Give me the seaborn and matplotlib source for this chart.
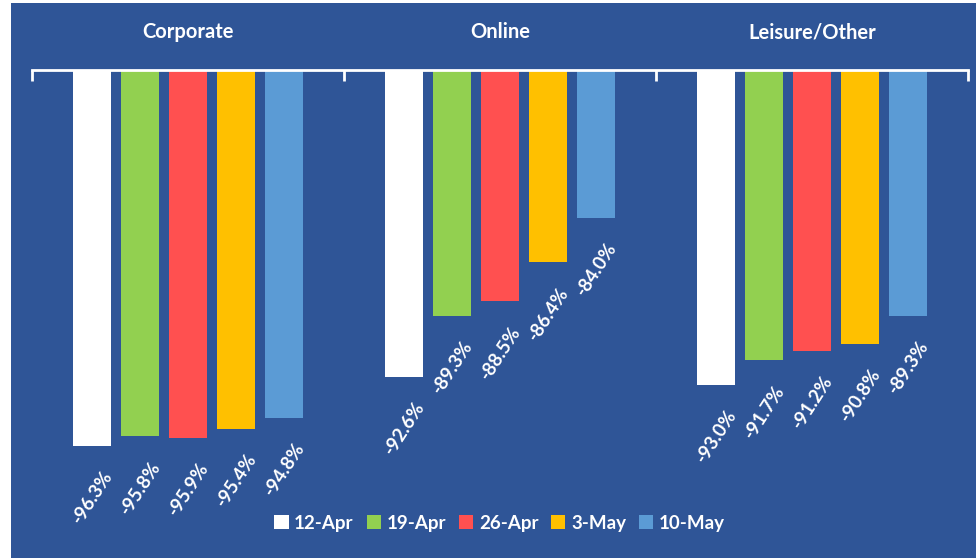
import pandas as pd
import numpy as np
import seaborn as sns
import matplotlib.pyplot as plt
from matplotlib.patches import Patch, Rectangle

# data (% change)
segments = ['Corporate', 'Online', 'Leisure/Other']
weeks = ['12-Apr', '19-Apr', '26-Apr', '3-May', '10-May']
corporate = [-96.3, -95.8, -95.9, -95.4, -94.8]
online = [-92.6, -89.3, -88.5, -86.4, -84.0]
leisure = [-93.0, -91.7, -91.2, -90.8, -89.3]
colors = ['#FFFFFF', '#92D050', '#FF5050', '#FFC000', '#5B9BD5']

df = pd.DataFrame({
    'segment': np.repeat(segments, len(weeks)),
    'week': weeks * len(segments),
    'value': corporate + online + leisure,
})

bg = '#2F5597'
sns.set_theme(style='white')
plt.rcParams['font.family'] = ['Lato', 'DejaVu Sans']

fig = plt.figure(figsize=(9.76, 5.58), dpi=100, facecolor=bg)
# white strip on the left / top like the screenshot
fig.patches.append(Rectangle((0, 0), 11 / 976, 1, transform=fig.transFigure,
                             facecolor='white', edgecolor='none', zorder=0))
fig.patches.append(Rectangle((0, 1 - 3 / 558), 1, 3 / 558, transform=fig.transFigure,
                             facecolor='white', edgecolor='none', zorder=0))

ax = fig.add_axes([32 / 976, 1 - 514 / 558, 936 / 976, 444 / 558])
ax.set_facecolor(bg)

sns.barplot(data=df, x='segment', y='value', hue='week', palette=colors,
            width=0.77, gap=0.21, saturation=1, linewidth=0, edgecolor='none',
            ax=ax, legend=False)

ax.set_ylim(-100, -76)
ax.set_xlim(-0.5, 2.5)

for s in ['left', 'right', 'bottom']:
    ax.spines[s].set_visible(False)
ax.spines['top'].set_color('white')
ax.spines['top'].set_linewidth(2)
ax.set_yticks([])
ax.set_xlabel('')
ax.set_ylabel('')

# tick marks at group boundaries on the top axis
ax.xaxis.set_ticks_position('top')
ax.set_xticks([-0.5, 0.5, 1.5, 2.5])
ax.set_xticklabels([])
ax.tick_params(axis='x', direction='in', length=8, width=2, color='white', top=True)

# segment titles
for i, seg in enumerate(segments):
    ax.text(i, 1 + 38 / 444, seg, transform=ax.get_xaxis_transform(), ha='center',
            va='center', color='white', fontsize=14.5, fontweight='bold')

# value labels, rotated below each bar
for bar in ax.patches:
    h = bar.get_height()
    if h == 0:
        continue
    xc = bar.get_x() + bar.get_width() / 2
    ax.annotate(f'{h:.1f}%', xy=(xc, h), xytext=(12, -19), textcoords='offset points',
                rotation=57, rotation_mode='anchor', ha='right', va='center',
                color='white', fontsize=13.5, fontweight='bold', annotation_clip=False)

handles = [Patch(facecolor=c, edgecolor='none') for c in colors]
fig.legend(handles, weeks, loc='center', bbox_to_anchor=(0.512, 1 - 523 / 558), ncol=5,
           frameon=False, handlelength=0.75, handleheight=0.75, handletextpad=0.3,
           columnspacing=0.7, prop={'size': 13.5, 'weight': 'bold'}, labelcolor='white')

plt.savefig('out.png', dpi=100, facecolor=bg)
